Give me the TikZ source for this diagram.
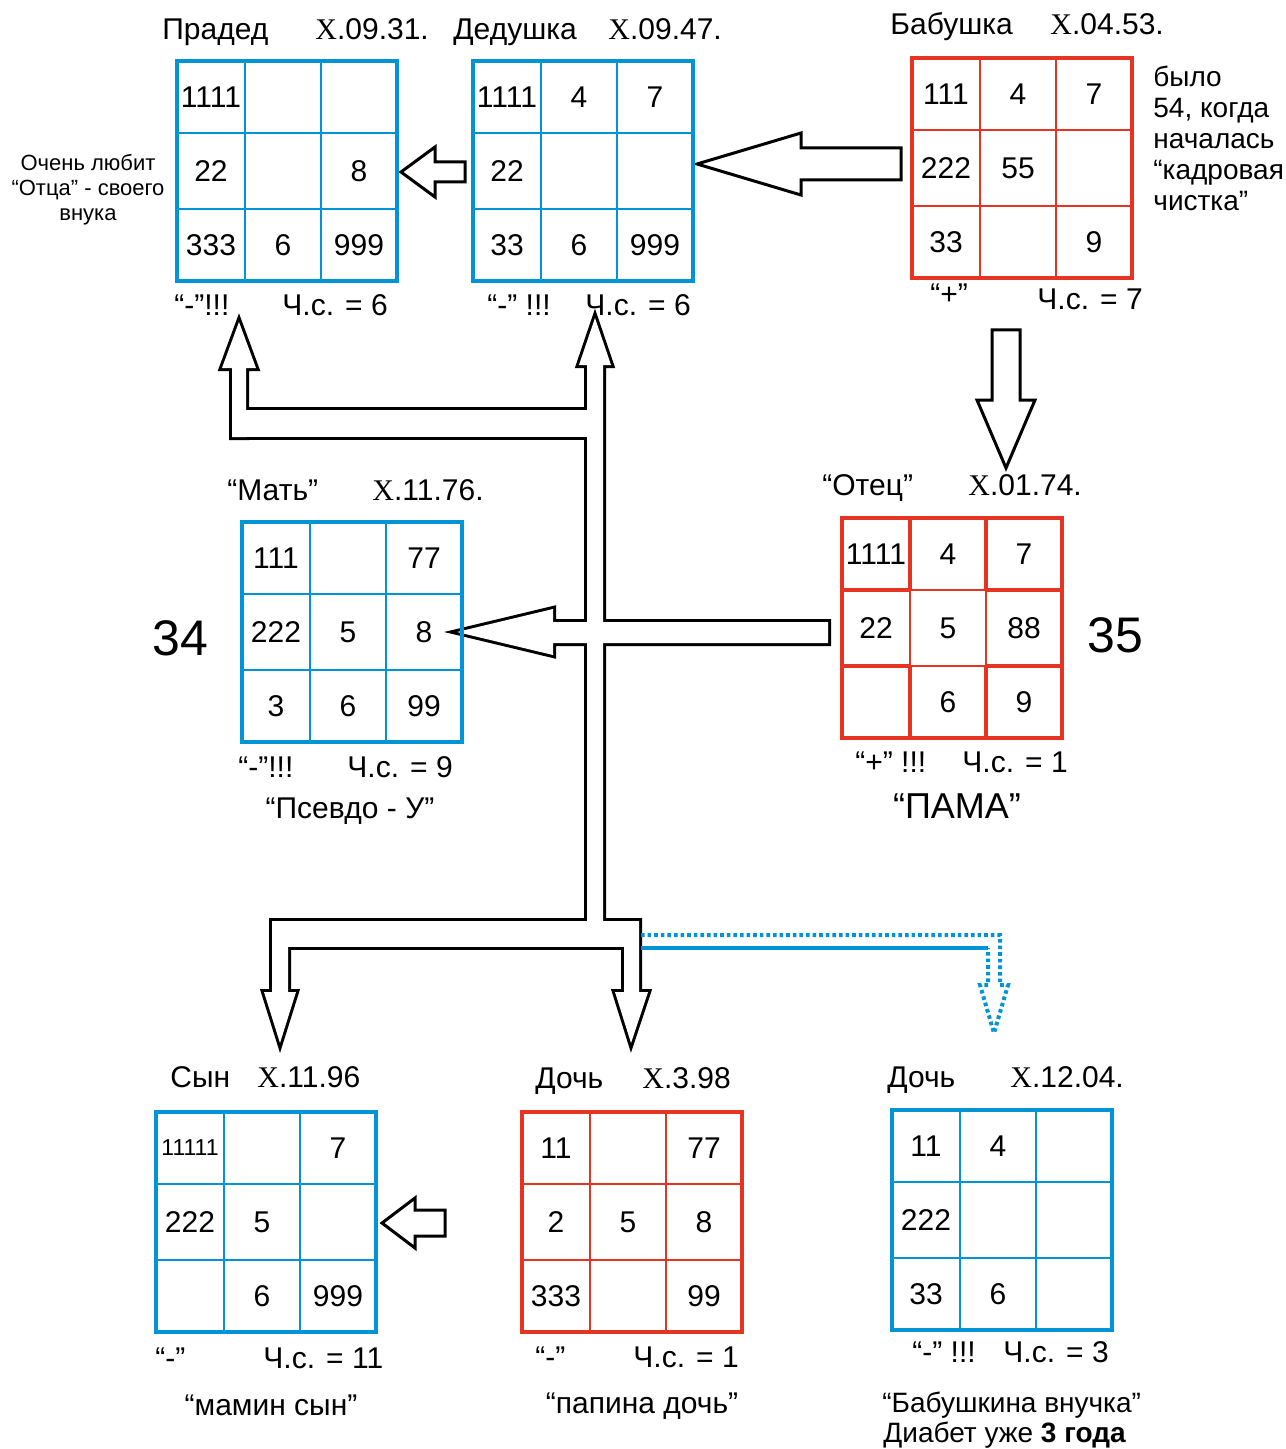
\documentclass[tikz,border=0pt]{standalone}
\usepackage{fontspec}
\setmainfont{Liberation Sans}
\newfontfamily\xfont{Liberation Serif}
\usepackage{tikz}
\usetikzlibrary{positioning}

\definecolor{sqblue}{RGB}{0,147,214}
\definecolor{sqred}{RGB}{230,52,34}

\tikzset{
  sqouter/.style={line width=2pt},
  sqinner/.style={line width=1pt},
  cellnum/.style={font=\fontsize{15}{17}\selectfont, inner sep=0pt},
  ttl/.style={font=\fontsize{15}{18}\selectfont, inner sep=0pt, anchor=base west},
  sub/.style={font=\fontsize{15}{18}\selectfont, inner sep=0pt, anchor=base},
  big/.style={font=\fontsize{25}{28}\selectfont, inner sep=0pt, anchor=base west},
  blockarr/.style={draw=black, line width=1.5pt, fill=white, line join=miter},
  unionline/.style={draw=black, line width=3pt, line join=miter},
  unionfill/.style={fill=white},
  bluedot/.style={draw=sqblue, line width=2pt, dash pattern=on 1.8pt off 1.5pt},
  blueline/.style={draw=sqblue, line width=2pt}
}

\newcommand{\smallnum}[1]{{\fontsize{11.5}{13}\selectfont #1}}

% name, left, top, colour, nine cells row by row
\newcommand{\magicsq}[5]{%
  \draw[sqouter, #4] (#2,#3) rectangle ++(220,220);
  \draw[sqinner, #4] (#2+68,#3) -- ++(0,220) (#2+144,#3) -- ++(0,220)
                     (#2,#3+72) -- ++(220,0) (#2,#3+148) -- ++(220,0);
  \foreach \val [count=\i from 0] in {#5} {
    \pgfmathtruncatemacro\sqcol{mod(\i,3)}
    \pgfmathtruncatemacro\sqrow{floor(\i/3)}
    \pgfmathsetmacro\sqx{#2+{34,106,182}[\sqcol]}
    \pgfmathsetmacro\sqy{#3+{36,110,184}[\sqrow]}
    \node[cellnum] (#1-\i) at (\sqx,\sqy) {\val};
  }
}

\begin{document}
\begin{tikzpicture}[x=0.5pt, y=-0.5pt]
  \useasboundingbox (0,0) rectangle (1285,1449);

  % single block arrows
  \draw[blockarr] (401,172) -- (435,147) -- (435,162) -- (465,162) -- (465,182) -- (435,182) -- (435,197) -- cycle;
  \draw[blockarr] (697,164) -- (801,133) -- (801,148) -- (901,148) -- (901,180) -- (801,180) -- (801,195) -- cycle;
  \draw[blockarr] (1006,468) -- (977,400) -- (992,400) -- (992,330) -- (1020,330) -- (1020,400) -- (1035,400) -- cycle;
  \draw[blockarr] (382,1223) -- (415,1198) -- (415,1210) -- (445,1210) -- (445,1236) -- (415,1236) -- (415,1248) -- cycle;

  % joined arrows: outline first, then white inside
  \foreach \pass in {unionline,unionfill} {
    \path[\pass] (595,318) -- (611,365) -- (603,365) -- (603,930) -- (587,930) -- (587,365) -- (579,365) -- cycle;
    \path[\pass] (239,322) -- (256,368) -- (246,368) -- (246,437) -- (232,437) -- (232,368) -- (222,368) -- cycle;
    \path[\pass] (232,410) rectangle (595,437);
    \path[\pass] (457,632) -- (553,609) -- (553,622) -- (828,622) -- (828,643) -- (553,643) -- (553,655) -- cycle;
    \path[\pass] (272,921) rectangle (639,947);
    \path[\pass] (272,921) -- (288,921) -- (288,992) -- (296,992) -- (280,1043) -- (264,992) -- (272,992) -- cycle;
    \path[\pass] (624,921) -- (639,921) -- (639,992) -- (648,992) -- (631,1043) -- (615,992) -- (624,992) -- cycle;
  }

  % blue dotted arrow
  \draw[bluedot] (641,935) -- (1000,935) -- (1000,985) -- (1008,985) -- (994,1033) -- (980,985) -- (988,985) -- (988,948);
  \draw[blueline] (641,948) -- (988,948);

  % squares
  \magicsq{pd}{177}{61}{sqblue}{1111,,,22,,8,333,6,999}
  \magicsq{dd}{473}{61}{sqblue}{1111,4,7,22,,,33,6,999}
  \magicsq{bb}{912}{58}{sqred}{111,4,7,222,55,,33,,9}
  \magicsq{ot}{842}{518}{sqred}{1111,4,7,22,5,88,,6,9}
  \draw[sqouter, sqred] (910,518) -- (910,590) (910,666) -- (910,738)
    (986,518) -- (986,590) (986,666) -- (986,738)
    (842,590) -- (910,590) (986,590) -- (1062,590)
    (842,666) -- (910,666) (986,666) -- (1062,666);
  \magicsq{mt}{242}{522}{sqblue}{111,,77,222,5,8,3,6,99}
  \magicsq{sn}{156}{1112}{sqblue}{\smallnum{11111},,7,222,5,,,6,999}
  \magicsq{dc}{522}{1112}{sqred}{11,,77,2,5,8,333,,99}
  \magicsq{vn}{892}{1110}{sqblue}{11,4,,222,,,33,6,}

  % Прадед
  \node[ttl] (pd-name) at (162,40) {Прадед};
  \node[ttl] (pd-date) at (315,40) {{\xfont X}.09.31.};
  \node[ttl] (pd-sign) at (174,315) {“-”!!!};
  \node[ttl] (pd-cs) at (282,315) {Ч.с. = 6};
  \node[align=center, font=\fontsize{11}{12.5}\selectfont, inner sep=0pt] (pd-note) at (88,190) {Очень любит\\“Отца” - своего\\внука};

  % Дедушка
  \node[ttl] (dd-name) at (453,40) {Дедушка};
  \node[ttl] (dd-date) at (608,40) {{\xfont X}.09.47.};
  \node[ttl] (dd-sign) at (487,315) {“-” !!!};
  \node[ttl] (dd-cs) at (585,315) {Ч.с. = 6};

  % Бабушка
  \node[ttl] (bb-name) at (890,35) {Бабушка};
  \node[ttl] (bb-date) at (1050,35) {{\xfont X}.04.53.};
  \node[ttl] (bb-sign) at (930,305) {“+”};
  \node[ttl] (bb-cs) at (1037,310) {Ч.с. = 7};
  \node[align=left, anchor=north west, font=\fontsize{14}{15.5}\selectfont, inner sep=0pt] (bb-note) at (1153,66) {было\\54, когда\\началась\\“кадровая\\чистка”};

  % Отец
  \node[ttl] (ot-name) at (822,495) {“Отец”};
  \node[ttl] (ot-date) at (968,495) {{\xfont X}.01.74.};
  \node[ttl] (ot-sign) at (855,772) {“+” !!!};
  \node[ttl] (ot-cs) at (962,772) {Ч.с. = 1};
  \node[sub, font=\fontsize{18}{20}\selectfont] (ot-nick) at (957,818) {“ПАМА”};
  \node[big] (ot-sum) at (1087,652) {35};

  % Мать
  \node[ttl] (mt-name) at (227,500) {“Мать”};
  \node[ttl] (mt-date) at (372,500) {{\xfont X}.11.76.};
  \node[ttl] (mt-sign) at (238,777) {“-”!!!};
  \node[ttl] (mt-cs) at (347,777) {Ч.с. = 9};
  \node[sub] (mt-nick) at (350,818) {“Псевдо - У”};
  \node[big] (mt-sum) at (152,655) {34};

  % Сын
  \node[ttl] (sn-name) at (170,1087) {Сын};
  \node[ttl] (sn-date) at (257,1087) {{\xfont X}.11.96};
  \node[ttl] (sn-sign) at (155,1368) {“-”};
  \node[ttl] (sn-cs) at (263,1368) {Ч.с. = 11};
  \node[sub] (sn-nick) at (271,1415) {“мамин сын”};

  % Дочь
  \node[ttl] (dc-name) at (535,1088) {Дочь};
  \node[ttl] (dc-date) at (642,1088) {{\xfont X}.3.98};
  \node[ttl] (dc-sign) at (535,1367) {“-”};
  \node[ttl] (dc-cs) at (633,1367) {Ч.с. = 1};
  \node[sub] (dc-nick) at (642,1413) {“папина дочь”};

  % Дочь (внучка)
  \node[ttl] (vn-name) at (887,1087) {Дочь};
  \node[ttl] (vn-date) at (1010,1087) {{\xfont X}.12.04.};
  \node[ttl] (vn-sign) at (912,1362) {“-” !!!};
  \node[ttl] (vn-cs) at (1003,1362) {Ч.с. = 3};
  \node[ttl, font=\fontsize{14}{16}\selectfont] (vn-nick) at (882,1412) {“Бабушкина внучка”};
  \node[ttl, font=\fontsize{14}{16}\selectfont] (vn-note) at (883,1442) {Диабет уже \textbf{3 года}};
\end{tikzpicture}
\end{document}
